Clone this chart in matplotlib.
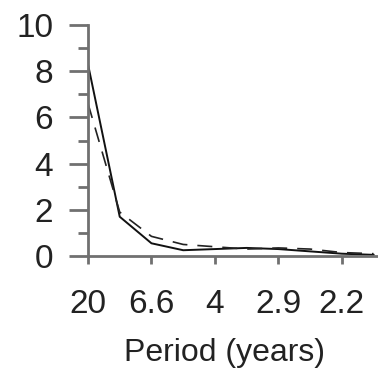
import numpy as np
import matplotlib
matplotlib.use("Agg")
import matplotlib.pyplot as plt
from matplotlib.ticker import MultipleLocator

plt.rcParams['font.family'] = ['Liberation Sans', 'DejaVu Sans']

# spectral power vs. frequency (cycles/year)
freq = [0.05, 0.10, 0.15, 0.20, 0.25, 0.30, 0.35, 0.40, 0.45, 0.50]
power_obs = [8.3, 1.7, 0.55, 0.25, 0.3, 0.35, 0.3, 0.2, 0.1, 0.05]
power_model = [6.6, 1.9, 0.85, 0.5, 0.4, 0.3, 0.35, 0.3, 0.15, 0.1]

tick_freq = [0.05, 0.15, 0.25, 0.35, 0.45]
tick_labels = ['20', '6.6', '4', '2.9', '2.2']

fig = plt.figure(figsize=(3.78, 3.77), dpi=100)
ax = fig.add_axes([88 / 378, 121 / 377, 290 / 378, 231 / 377])

ax.plot(freq, power_obs, color='#111111', lw=1.4)
ax.plot(freq, power_model, color='#222222', lw=1.2, ls=(0, (9, 6)))

ax.set_xlim(0.05, 0.507)
ax.set_ylim(0, 10)
ax.set_xticks(tick_freq)
ax.set_xticklabels(tick_labels)
ax.yaxis.set_major_locator(MultipleLocator(2))
ax.yaxis.set_minor_locator(MultipleLocator(1))

for side in ['top', 'right']:
    ax.spines[side].set_visible(False)
for side in ['left', 'bottom']:
    ax.spines[side].set_color('#707070')
    ax.spines[side].set_linewidth(2)

ax.tick_params(axis='y', which='major', length=14, width=2, color='#707070',
               labelsize=24, labelcolor='#222222', pad=11)
ax.tick_params(axis='y', which='minor', length=7, width=2, color='#707070')
ax.tick_params(axis='x', which='major', length=6, width=2, color='#707070',
               labelsize=24, labelcolor='#222222', pad=18)

ax.set_xlabel('Period (years)', fontsize=23, color='#222222')
ax.xaxis.set_label_coords(0.472, -0.355)

fig.savefig('out.png', dpi=100)
